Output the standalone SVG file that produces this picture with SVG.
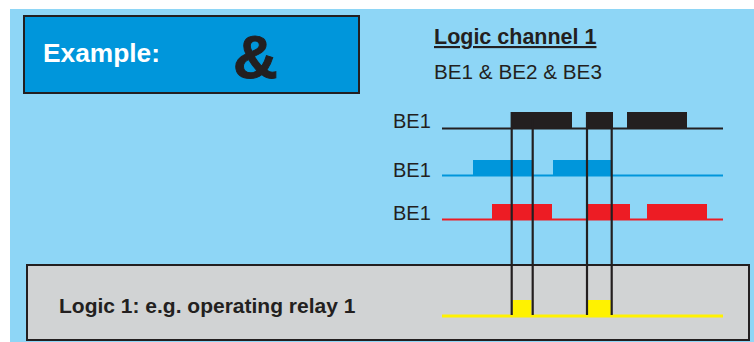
<svg xmlns="http://www.w3.org/2000/svg" width="754" height="342" viewBox="0 0 754 342">
<style>
.lbl{font-family:"Liberation Sans",Arial,sans-serif;font-size:20px;fill:#231F20}
.bold{font-weight:bold}
.blk{fill:#231F20}
.vline{stroke:#231F20;stroke-width:2.2;fill:none}
</style>
<rect x="0" y="0" width="754" height="342" fill="#FFFFFF"/>
<rect x="10" y="9" width="744" height="333" fill="#8ED6F6"/>
<g id="example">
<rect x="24" y="16" width="335" height="77" fill="#0096DB" stroke="#231F20" stroke-width="2"/>
<text x="43" y="62" font-family="Liberation Sans,Arial,sans-serif" font-weight="bold" font-size="26.3" fill="#FFFFFF">Example:</text>
<text x="233" y="78" font-family="Liberation Sans,Arial,sans-serif" font-weight="900" font-size="62" fill="#231F20" stroke="#231F20" stroke-width="1">&amp;</text>
</g>
<g id="title">
<text x="434" y="44" class="lbl bold" style="font-size:21.5px" text-decoration="underline">Logic channel 1</text>
<text x="434" y="79" class="lbl" style="font-size:20.7px">BE1 &amp; BE2 &amp; BE3</text>
</g>
<g id="logic1">
<rect x="27" y="265" width="722" height="75" fill="#D1D3D4" stroke="#231F20" stroke-width="2"/>
<text x="59" y="313" class="lbl bold" style="font-size:21px">Logic 1: e.g. operating relay 1</text>
<line x1="442" y1="316" x2="723" y2="316" stroke="#FFF200" stroke-width="3"/>
<rect x="512.5" y="300" width="19" height="16" fill="#FFF200"/>
<rect x="588" y="300" width="23" height="16" fill="#FFF200"/>
</g>
<g id="be1-black">
<text x="393" y="128" class="lbl">BE1</text>
<line x1="442" y1="128.5" x2="723" y2="128.5" stroke="#231F20" stroke-width="2.2"/>
<rect x="511" y="112" width="61" height="16" class="blk"/>
<rect x="586" y="112" width="27" height="16" class="blk"/>
<rect x="627" y="112" width="60" height="16" class="blk"/>
</g>
<g id="be1-blue">
<text x="393" y="177" class="lbl">BE1</text>
<line x1="442" y1="175.5" x2="723" y2="175.5" stroke="#0096DB" stroke-width="2.2"/>
<rect x="473" y="160" width="59" height="16" fill="#0096DB"/>
<rect x="553" y="160" width="58" height="16" fill="#0096DB"/>
</g>
<g id="be1-red">
<text x="393" y="220" class="lbl">BE1</text>
<line x1="442" y1="219.5" x2="723" y2="219.5" stroke="#ED1C24" stroke-width="2.2"/>
<rect x="492" y="204" width="60" height="16" fill="#ED1C24"/>
<rect x="588" y="204" width="42" height="16" fill="#ED1C24"/>
<rect x="647" y="204" width="60" height="16" fill="#ED1C24"/>
</g>
<g id="connectors">
<line class="vline" x1="511.7" y1="112" x2="511.7" y2="315"/>
<line class="vline" x1="532.7" y1="118" x2="532.7" y2="315"/>
<line class="vline" x1="587" y1="112" x2="587" y2="315"/>
<line class="vline" x1="611.7" y1="112" x2="611.7" y2="315"/>
</g>
</svg>
